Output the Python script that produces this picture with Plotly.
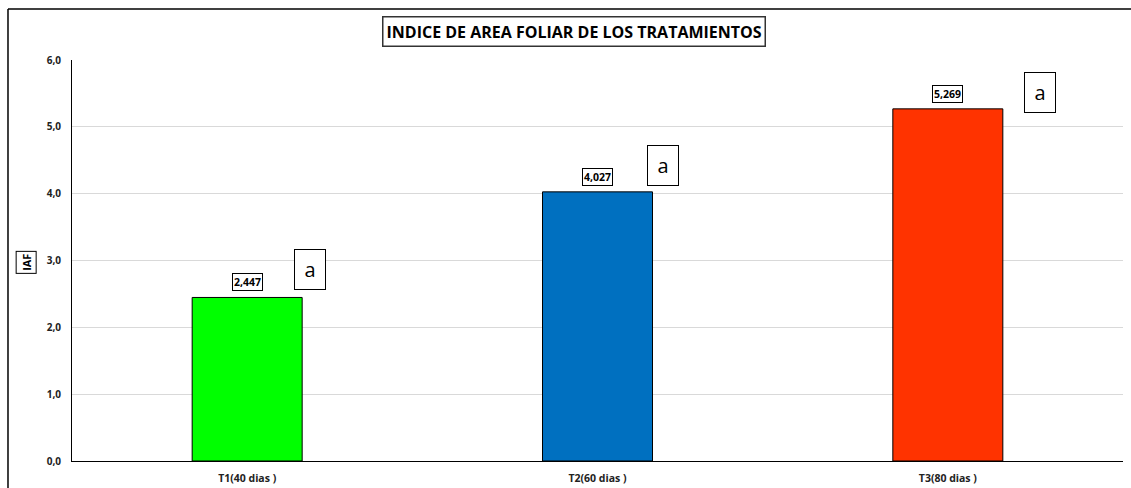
import plotly.graph_objects as go

# data
tratamientos = ["T1(40 dias )", "T2(60 dias )", "T3(80 dias )"]
iaf = [2.447, 4.027, 5.269]
letras = ["a", "a", "a"]
colores = ["#00ff00", "#0070c0", "#ff3300"]
y_ticks = [0, 1, 2, 3, 4, 5, 6]

# where the significance letters sit (offset from bar centre, height)
letra_dx = [0.18, 0.186, 0.263]
letra_y = [2.86, 4.42, 5.52]

fig = go.Figure()
fig.add_trace(go.Bar(
    x=list(range(len(tratamientos))),
    y=iaf,
    width=0.314,
    marker=dict(color=colores, line=dict(color="black", width=1)),
    hoverinfo="skip",
))

anns = []
for i, v in enumerate(iaf):
    anns.append(dict(
        x=i, y=v, xref="x", yref="y", yanchor="bottom", yshift=6,
        text="<b>" + f"{v:.3f}".replace(".", ",") + "</b>", showarrow=False,
        font=dict(family="Open Sans", size=10.5, color="black"),
        bordercolor="black", borderwidth=1, borderpad=1, bgcolor="white",
    ))
    anns.append(dict(
        x=i + letra_dx[i], y=letra_y[i], xref="x", yref="y",
        text=letras[i], showarrow=False,
        font=dict(family="Open Sans", size=20, color="black"),
        bordercolor="black", borderwidth=1, borderpad=6, bgcolor="white",
        width=18,
    ))

anns.append(dict(
    x=0.4776, y=1.07, xref="paper", yref="paper",
    xanchor="center", yanchor="middle",
    text="<b>INDICE DE AREA FOLIAR DE LOS TRATAMIENTOS</b>", showarrow=False,
    font=dict(family="Open Sans", size=16, color="black"),
    bordercolor="#333", borderwidth=1.5, borderpad=3, bgcolor="white",
))
anns.append(dict(
    x=-0.044, y=0.496, xref="paper", yref="paper", textangle=-90,
    xanchor="center", yanchor="middle",
    text="<b>IAF</b>", showarrow=False,
    font=dict(family="Open Sans", size=11, color="black"),
    bordercolor="black", borderwidth=1, borderpad=2, bgcolor="white",
))

# outer chart frame: left and top edges only (the rest is cropped in the original)
borde = dict(color="black", width=1.5)
fig.update_layout(
    width=1131, height=488,
    margin=dict(l=72, r=8, t=60, b=27, autoexpand=False),
    paper_bgcolor="white", plot_bgcolor="white",
    separators=",.",
    showlegend=False,
    annotations=anns,
    shapes=[
        dict(type="line", xref="paper", yref="paper",
             x0=-0.0609, x1=-0.0609, y0=-0.1, y1=1.127, line=borde),
        dict(type="line", xref="paper", yref="paper",
             x0=-0.0609, x1=1.01, y0=1.127, y1=1.127, line=borde),
    ],
    font=dict(family="Open Sans", color="#222"),
)
fig.update_xaxes(
    tickvals=list(range(len(tratamientos))), ticktext=tratamientos,
    range=[-0.5, 2.5], showline=True, linecolor="black", linewidth=1,
    showgrid=False, ticks="", ticklabelstandoff=7,
    tickfont=dict(size=10.5, color="#222", family="Open Sans", weight="bold"),
)
fig.update_yaxes(
    range=[0, 6], tickvals=y_ticks, tickformat=".1f",
    showline=True, linecolor="black", linewidth=1,
    gridcolor="#d9d9d9", gridwidth=1, zeroline=False, ticks="",
    ticklabelstandoff=8,
    tickfont=dict(size=10, color="#222", family="Open Sans", weight="bold"),
)

# page margin off so the figure fills the window exactly
fig.write_html("out.html", config={"displayModeBar": False},
               post_script="document.body.style.margin='0';"
               "document.body.style.overflow='hidden';")
